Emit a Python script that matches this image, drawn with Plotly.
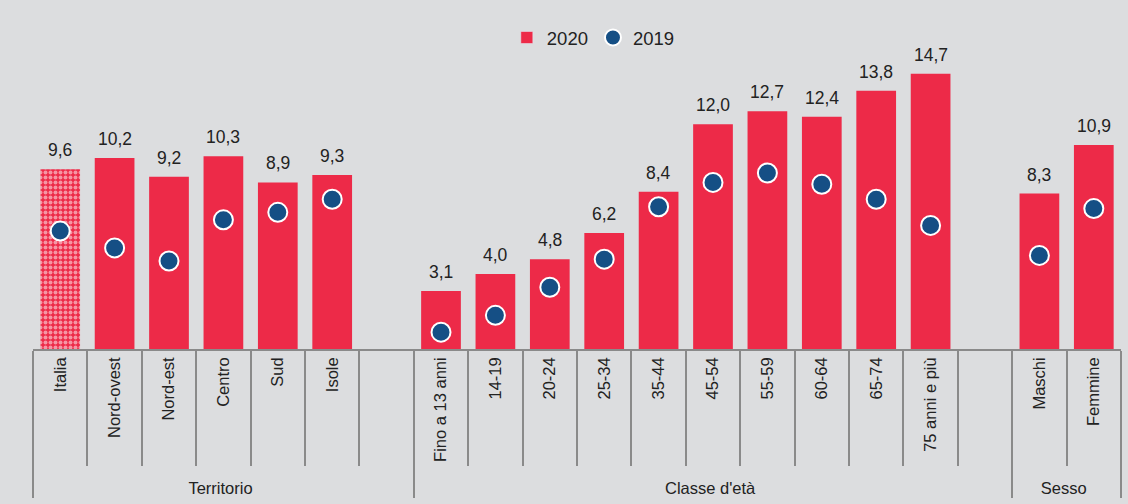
import plotly.graph_objects as go

groups = ["Territorio"] * 7 + ["Classe d'età"] * 11 + ["Sesso"] * 2
categories = ["Italia", "Nord-ovest", "Nord-est", "Centro", "Sud", "Isole", " ",
              "Fino a 13 anni", "14-19", "20-24", "25-34", "35-44", "45-54", "55-59",
              "60-64", "65-74", "75 anni e più", "  ",
              "Maschi", "Femmine"]
v2020 = [9.6, 10.2, 9.2, 10.3, 8.9, 9.3, None,
         3.1, 4.0, 4.8, 6.2, 8.4, 12.0, 12.7, 12.4, 13.8, 14.7, None,
         8.3, 10.9]
v2019 = [6.3, 5.4, 4.7, 6.9, 7.3, 8.0, None,
         0.9, 1.8, 3.3, 4.8, 7.6, 8.9, 9.4, 8.8, 8.0, 6.6, None,
         5.0, 7.5]

RED = "#ED2A48"
BLUE = "#154F85"
BG = "#DCDDDF"
GRID = "#8A8A8A"
TXT = "#222222"
FONT = "Arial, Liberation Sans, sans-serif"

x = [groups, categories]

pat_shape = ["." if c == "Italia" else "" for c in categories]

fig = go.Figure()
fig.add_trace(go.Bar(
    x=x, y=v2020, name="2020",
    marker=dict(color=RED, line=dict(width=0),
                pattern=dict(shape=pat_shape, fgcolor="white", bgcolor=RED,
                             size=5, solidity=0.5)),
    showlegend=False,
))
# legend proxy for solid 2020 bar
fig.add_trace(go.Bar(x=[[groups[0]], [categories[0]]], y=[None], name="2020",
                     marker=dict(color=RED), showlegend=True))
fig.add_trace(go.Scatter(
    x=x, y=v2019, name="2019", mode="markers",
    marker=dict(color=BLUE, size=19, line=dict(color="white", width=2)),
))

for g, c, v in zip(groups, categories, v2020):
    if v is None:
        continue
    fig.add_annotation(x=[g, c], y=v, text=f"{v:.1f}".replace(".", ","),
                       showarrow=False, yanchor="bottom", yshift=7,
                       font=dict(size=17.5, color=TXT, family=FONT))

fig.update_layout(
    width=1128, height=504,
    margin=dict(l=33, r=7, t=30, b=155),
    paper_bgcolor=BG, plot_bgcolor=BG,
    font=dict(family=FONT, color=TXT, size=16.5),
    bargap=0.27,
    barmode="overlay",
    legend=dict(orientation="h", x=0.515, xanchor="center", y=0.975, yanchor="middle",
                font=dict(size=18.5, color=TXT), bgcolor="rgba(0,0,0,0)",
                itemwidth=30, traceorder="normal"),
    showlegend=True,
)
fig.update_xaxes(
    type="multicategory",
    range=[-0.5, len(categories) - 0.5], autorange=False,
    showline=True, linecolor=GRID, linewidth=1.5,
    ticks="outside", tickson="boundaries", ticklen=115, tickcolor=GRID, tickwidth=1.5,
    tickangle=-90,
    tickfont=dict(size=16.5, color=TXT, family=FONT),
    showdividers=True, dividercolor=GRID, dividerwidth=1.5,
    showgrid=False, zeroline=False,
)
fig.update_yaxes(range=[0, 17.04], visible=False, showgrid=False, zeroline=False)

fig.write_html("out.html", config={"displayModeBar": False},
               post_script="document.body.style.margin='0px';")
